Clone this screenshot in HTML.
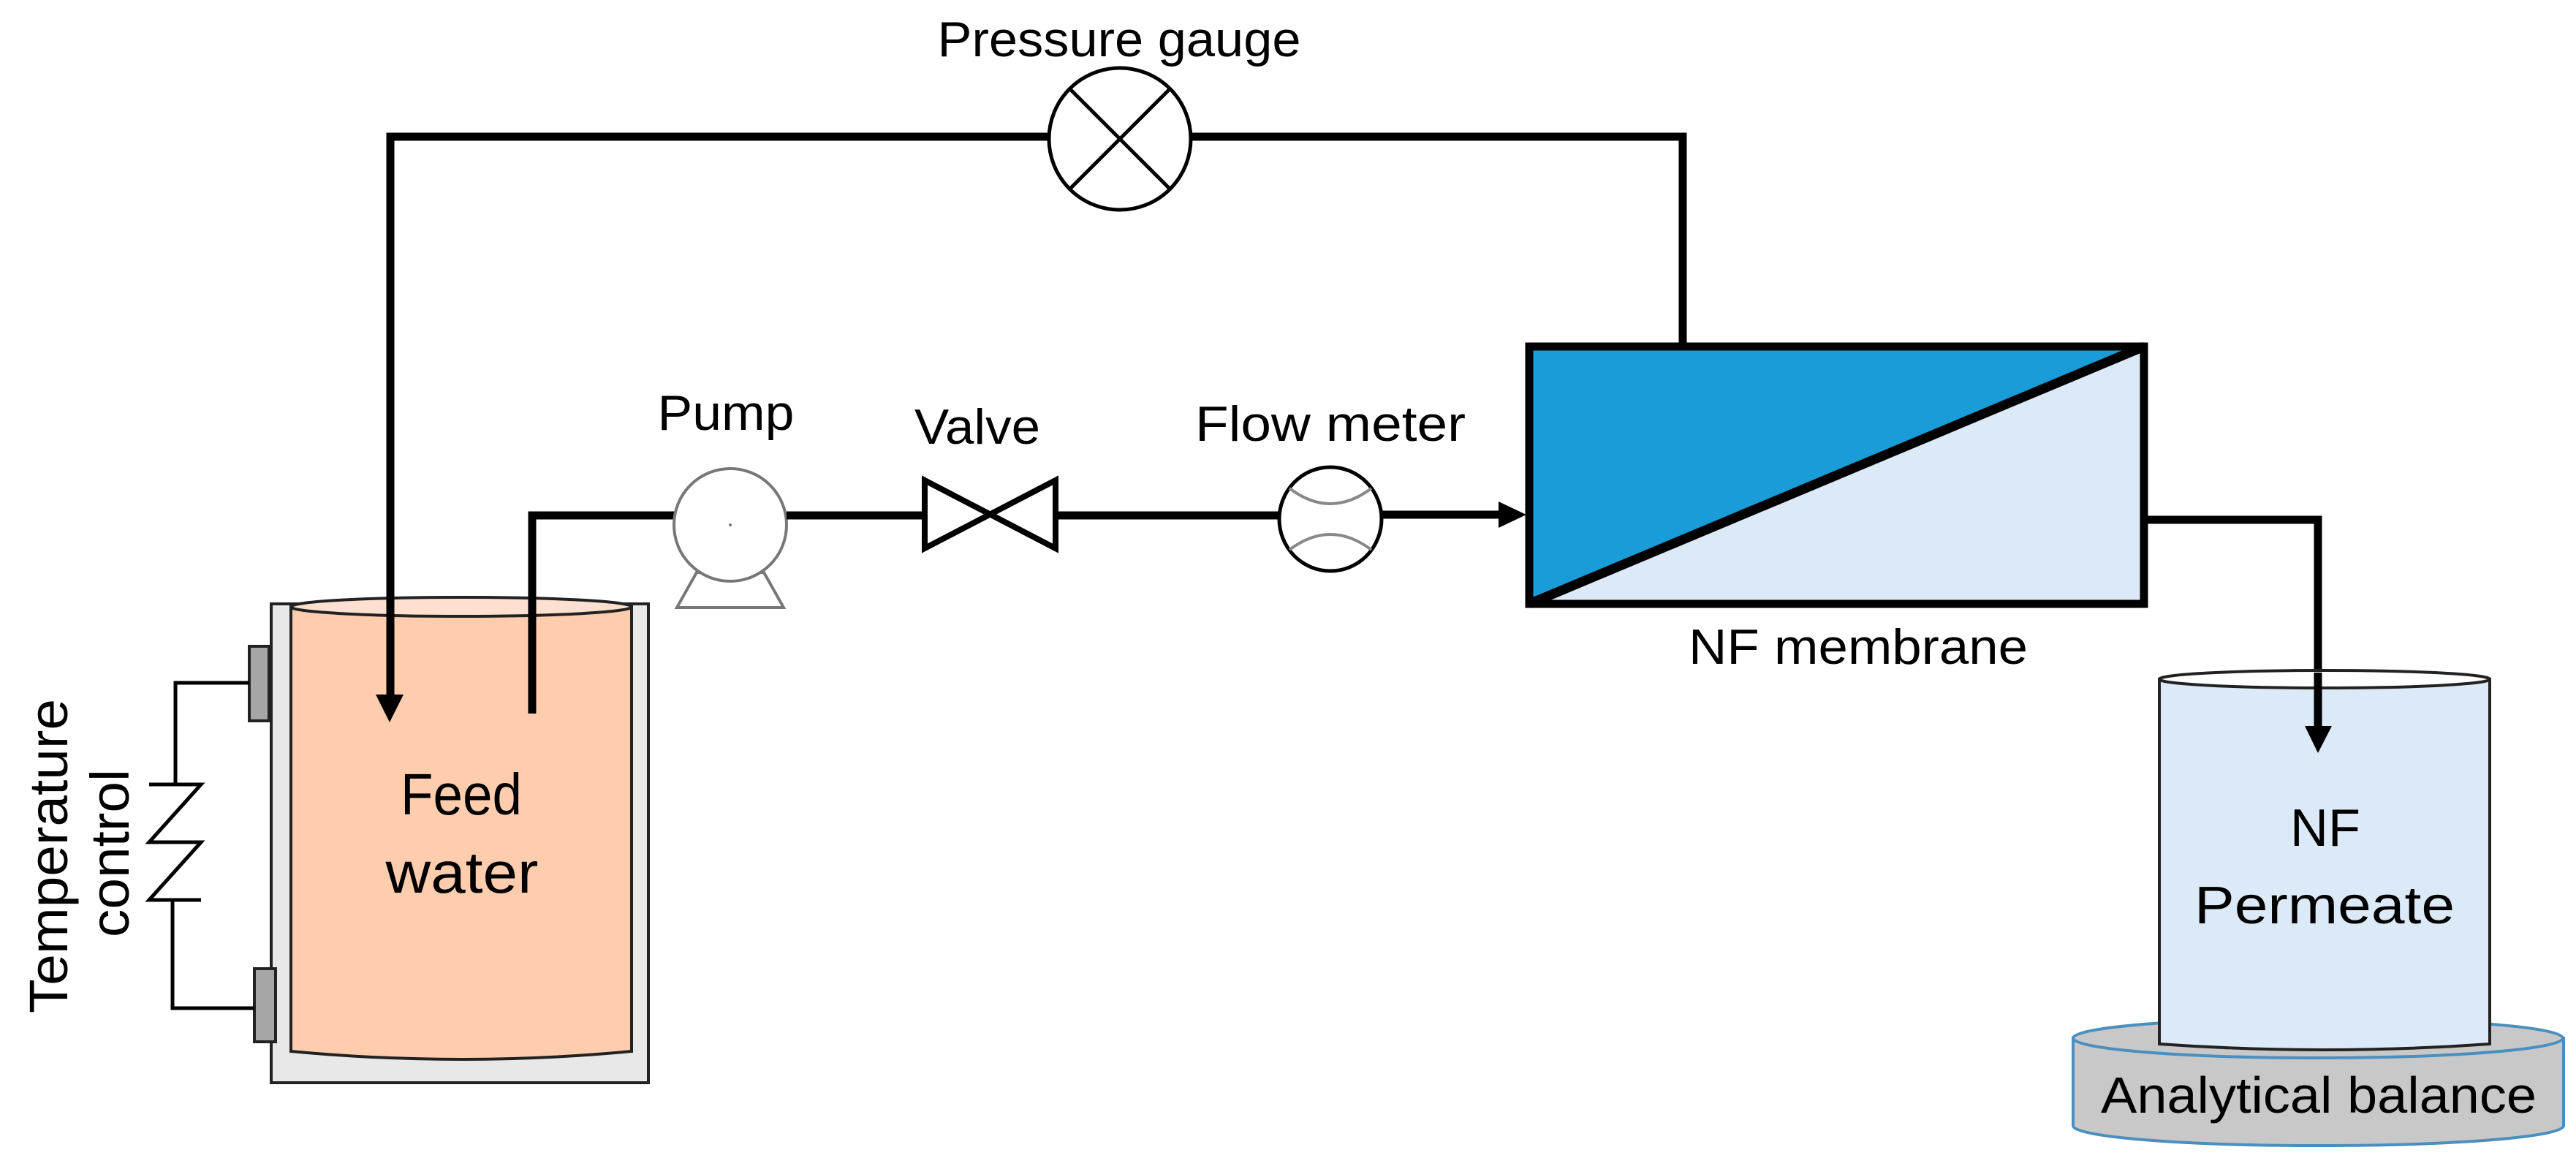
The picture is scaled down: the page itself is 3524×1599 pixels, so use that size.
<!DOCTYPE html>
<html><head><meta charset="utf-8"><style>html,body{margin:0;padding:0;background:#fff}svg{display:block}</style></head>
<body>
<svg width="3524" height="1599" viewBox="0 0 3524 1599" xmlns="http://www.w3.org/2000/svg" font-family="Liberation Sans, sans-serif" fill="#000">
<!-- feed tank -->
<rect x="371" y="826" width="516" height="655" fill="#e8e8e8" stroke="#222" stroke-width="4"/>
<path d="M398,830 L398,1438 Q631,1460 864,1438 L864,830 Z" fill="#fecdae" stroke="#222" stroke-width="4"/>
<ellipse cx="631" cy="830" rx="233" ry="13" fill="#fde0cf" stroke="#222" stroke-width="4"/>
<!-- Top return line -->
<polyline points="534,952 534,187 1435,187" fill="none" stroke="#000" stroke-width="11"/>
<polyline points="1629,187 2302,187 2302,469" fill="none" stroke="#000" stroke-width="11"/>
<polygon points="514,950 552,950 533,988" fill="#000"/>
<!-- suction pipe -->
<polyline points="728,976 728,705 924,705" fill="none" stroke="#000" stroke-width="11"/>
<!-- heaters -->
<rect x="341" y="884" width="27" height="102" fill="#a6a6a6" stroke="#222" stroke-width="4"/>
<rect x="348" y="1325" width="29" height="100" fill="#a6a6a6" stroke="#222" stroke-width="4"/>
<polyline points="341,934 240,934 240,1073 204,1073 275,1073 204,1152 275,1152 204,1231 275,1231 236,1231 236,1379 348,1379" fill="none" stroke="#000" stroke-width="5"/>
<text transform="translate(92,1171) rotate(-90)" font-size="74" text-anchor="middle" textLength="430" lengthAdjust="spacingAndGlyphs">Temperature</text>
<text transform="translate(176,1167) rotate(-90)" font-size="74" text-anchor="middle" textLength="230" lengthAdjust="spacingAndGlyphs">control</text>
<text x="631" y="1114" font-size="80" text-anchor="middle" textLength="166" lengthAdjust="spacingAndGlyphs">Feed</text>
<text x="632" y="1221" font-size="80" text-anchor="middle" textLength="209" lengthAdjust="spacingAndGlyphs">water</text>
<!-- pump -->
<polygon points="926,831 1072,831 1045,783 953,783" fill="#fff" stroke="#777" stroke-width="4"/>
<circle cx="999" cy="718" r="77" fill="#fff" stroke="#777" stroke-width="4"/>
<circle cx="999" cy="718" r="2" fill="#777"/>
<line x1="1076" y1="705" x2="1265" y2="705" stroke="#000" stroke-width="11"/>
<!-- valve -->
<polygon points="1265,657 1265,750 1444,657 1444,750" fill="#fff" stroke="#000" stroke-width="8" stroke-linejoin="miter"/>
<line x1="1444" y1="705" x2="1751" y2="705" stroke="#000" stroke-width="11"/>
<!-- flow meter -->
<ellipse cx="1820" cy="710" rx="70" ry="71" fill="#fff" stroke="#000" stroke-width="5"/>
<path d="M1764,668 Q1820,710 1876,668" fill="none" stroke="#888" stroke-width="4"/>
<path d="M1764,752 Q1820,710 1876,752" fill="none" stroke="#888" stroke-width="4"/>
<line x1="1891" y1="704" x2="2060" y2="704" stroke="#000" stroke-width="11"/>
<polygon points="2050,686 2088,704 2050,722" fill="#000"/>
<!-- pressure gauge -->
<circle cx="1532" cy="190" r="97" fill="#fff" stroke="#000" stroke-width="5"/>
<line x1="1463" y1="121" x2="1601" y2="259" stroke="#000" stroke-width="5"/>
<line x1="1601" y1="121" x2="1463" y2="259" stroke="#000" stroke-width="5"/>
<!-- membrane -->
<polygon points="2092,474 2933,474 2092,826" fill="#199cd8"/>
<polygon points="2933,474 2933,826 2092,826" fill="#dbeaf6"/>
<rect x="2092" y="474" width="841" height="352" fill="none" stroke="#000" stroke-width="11"/>
<line x1="2092" y1="826" x2="2933" y2="474" stroke="#000" stroke-width="13"/>
<polyline points="2938,711 3171,711 3171,995" fill="none" stroke="#000" stroke-width="11"/>
<!-- balance -->
<path d="M2836,1420 L2836,1540 A335,27 0 0 0 3507,1540 L3507,1420 Z" fill="#c8c8c8" stroke="#4a8fbf" stroke-width="4"/>
<ellipse cx="3171" cy="1420" rx="335" ry="27" fill="#c8c8c8" stroke="#4a8fbf" stroke-width="4"/>
<!-- permeate -->
<path d="M2954,929 L2954,1428 Q3180,1444 3406,1428 L3406,929 Z" fill="#dbeaf6" stroke="#222" stroke-width="4"/>
<ellipse cx="3180" cy="929" rx="226" ry="12" fill="#fff" stroke="#222" stroke-width="4"/>
<line x1="3171" y1="920" x2="3171" y2="995" stroke="#000" stroke-width="11"/>
<polygon points="3153,993 3190,993 3171,1030" fill="#000"/>
<!-- labels -->
<text x="1531" y="77" font-size="68" text-anchor="middle" textLength="497" lengthAdjust="spacingAndGlyphs">Pressure gauge</text>
<text x="993" y="588" font-size="68" text-anchor="middle" textLength="187" lengthAdjust="spacingAndGlyphs">Pump</text>
<text x="1337" y="607" font-size="68" text-anchor="middle" textLength="172" lengthAdjust="spacingAndGlyphs">Valve</text>
<text x="1820" y="603" font-size="68" text-anchor="middle" textLength="370" lengthAdjust="spacingAndGlyphs">Flow meter</text>
<text x="2542" y="908" font-size="68" text-anchor="middle" textLength="464" lengthAdjust="spacingAndGlyphs">NF membrane</text>
<text x="3181" y="1157" font-size="72" text-anchor="middle" textLength="96" lengthAdjust="spacingAndGlyphs">NF</text>
<text x="3180" y="1263" font-size="72" text-anchor="middle" textLength="356" lengthAdjust="spacingAndGlyphs">Permeate</text>
<text x="3172" y="1522" font-size="70" text-anchor="middle" textLength="596" lengthAdjust="spacingAndGlyphs">Analytical balance</text>
</svg>
</body></html>
